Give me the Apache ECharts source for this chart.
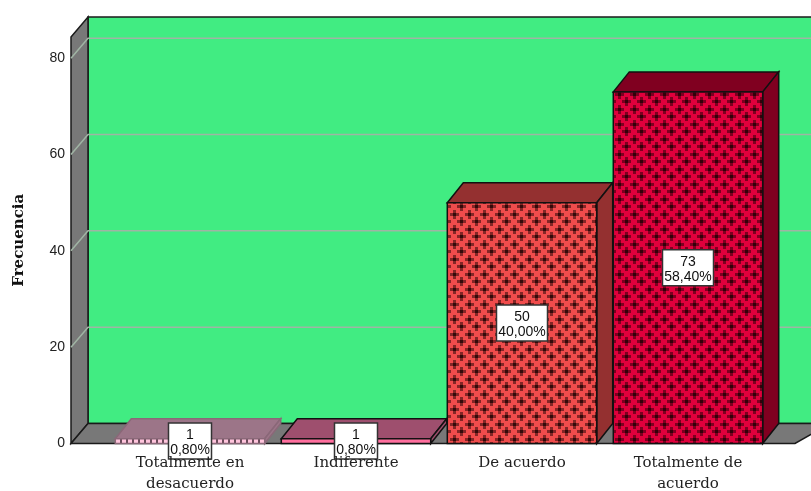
<!DOCTYPE html>
<html><head><meta charset="utf-8">
<style>html,body{margin:0;padding:0;background:#fff}#c{width:811px;height:491px}</style>
<script src="https://cdn.jsdelivr.net/npm/echarts@6/dist/echarts.min.js"></script>
</head><body><div id="c"></div>
<script>
const categories = ['Totalmente en\ndesacuerdo','Indiferente','De acuerdo','Totalmente de\nacuerdo'];
const frequencies = [1,1,50,73];
const percentLabels = ['0,80%','0,80%','40,00%','58,40%'];
const yTicks = [0,20,40,60,80];
const frontColors = ['#ffc4dc','#ff6f9e','#f04c4c','#e0003c'];
const crossColors = ['#6a4a5a','#ff6f9e','#2c0808','#2c0008'];
const sideColors = ['#9c7588','#9e4f6e','#943030','#800020'];
const edgeColors = ['#8a6878','#111','#111','#111'];

function tile(bg, fg, i){
  const c=document.createElement('canvas');
  const g=c.getContext('2d');
  if(i===0){
    c.width=6;c.height=4;g.fillStyle=bg;g.fillRect(0,0,6,4);
    g.fillStyle=fg;g.fillRect(0,0,2,4);
    return c;
  }
  c.width=15;c.height=15;
  g.fillStyle=bg;g.fillRect(0,0,15,15);
  g.fillStyle=fg;
  [[4,4],[19,4],[4,19],[11,11],[-4,11],[11,-4]].forEach(([x,y])=>{
    g.globalAlpha=0.55;
    g.fillRect(x-4,y-1,9,3);g.fillRect(x-1,y-4,3,3);g.fillRect(x-1,y+2,3,3);
    g.globalAlpha=0.9;
    g.fillRect(x-1,y-1,3,3);
  });
  g.globalAlpha=1;
  return c;
}
const DX=16, DY=-20;
const chart=echarts.init(document.getElementById('c'),null,{renderer:'canvas'});
function frame(params,api){
  const r=params.coordSys;
  const y0=api.coord([0,0])[1];
  const L=71, R=830;
  const kids=[
    {type:'polygon',shape:{points:[[L+17,y0+DY],[R,y0+DY],[R,r.y+DY],[L+17,r.y+DY]]},style:{fill:'#41ec82',stroke:'#1a1a1a',lineWidth:1.5}},
    {type:'polygon',shape:{points:[[L,r.y],[L+17,r.y+DY],[L+17,y0+DY],[L,y0]]},style:{fill:'#787878',stroke:'#1a1a1a',lineWidth:1.5}},
    {type:'polygon',shape:{points:[[L,y0],[L+17,y0+DY],[R,y0+DY],[R-35,y0]]},style:{fill:'#787878',stroke:'#1a1a1a',lineWidth:1.5}}
  ];
  yTicks.forEach(t=>{
    if(t===0) return;
    const y=api.coord([0,t])[1];
    kids.push({type:'polyline',shape:{points:[[L,y],[L+17,y+DY],[R,y+DY]]},style:{fill:null,stroke:'#a0b4a4',lineWidth:1.5}});
  });
  return {type:'group',children:kids};
}
function bar(params,api){
  const i=params.dataIndex;
  const c=api.coord([i,api.value(1)]), y0=api.coord([i,0])[1];
  const w=api.size([1,0])[0]*0.9, x=c[0]-w/2, y=c[1];
  const sty=f=>({fill:f,stroke:edgeColors[i],lineWidth:1.5});
  return {type:'group',children:[
    {type:'polygon',shape:{points:[[x,y],[x+DX,y+DY],[x+w+DX,y+DY],[x+w,y]]},style:sty(sideColors[i])},
    {type:'polygon',shape:{points:[[x+w,y],[x+w+DX,y+DY],[x+w+DX,y0+DY],[x+w,y0]]},style:sty(sideColors[i])},
    {type:'rect',shape:{x:x,y:y,width:w,height:y0-y},style:{fill:{image:tile(frontColors[i],crossColors[i],i),repeat:'repeat'},stroke:edgeColors[i],lineWidth:1.5}}
  ]};
}
function lab(params,api){
  const i=params.dataIndex;
  const c=api.coord([i,api.value(1)]), y0=api.coord([i,0])[1];
  const cy=(c[1]+y0)/2, w=i<2?43:51, h=36;
  return {type:'group',children:[
    {type:'rect',shape:{x:c[0]-w/2,y:cy-h/2,width:w,height:h},style:{fill:'#fff',stroke:'#333',lineWidth:1.5}},
    {type:'text',style:{x:c[0],y:cy+1.5,text:api.value(1)+'\n'+percentLabels[i],align:'center',verticalAlign:'middle',font:'14px "Liberation Sans"',lineHeight:15,fill:'#111'}}
  ]};
}
chart.setOption({
  animation:false,
  grid:{left:107,top:37,width:664,bottom:47.5,outerBoundsMode:'none'},
  xAxis:{type:'category',data:categories,z:10,axisLine:{show:false},axisTick:{show:false},
    axisLabel:{margin:9,interval:0,fontFamily:'DejaVu Serif',fontSize:15,lineHeight:21,color:'#222'}},
  yAxis:{type:'value',min:0,max:84.4,interval:20,splitLine:{show:false},axisLine:{show:false},axisTick:{show:false},
    axisLabel:{margin:42,showMaxLabel:false,verticalAlignMinLabel:'middle',padding:[3,0,0,0],fontFamily:'Liberation Sans',fontSize:14,color:'#222'},
    name:'Frecuencia',nameLocation:'middle',nameGap:80,nameTextStyle:{fontFamily:'DejaVu Serif',fontWeight:'bold',fontSize:15,color:'#111'}},
  series:[
    {type:'custom',z:1,silent:true,data:[[0,0]],renderItem:frame,clip:false},
    {type:'custom',z:2,data:frequencies.map((v,i)=>[i,v]),renderItem:bar,clip:false},
    {type:'custom',z:3,data:frequencies.map((v,i)=>[i,v]),renderItem:lab,clip:false}
  ]
});
</script></body></html>
